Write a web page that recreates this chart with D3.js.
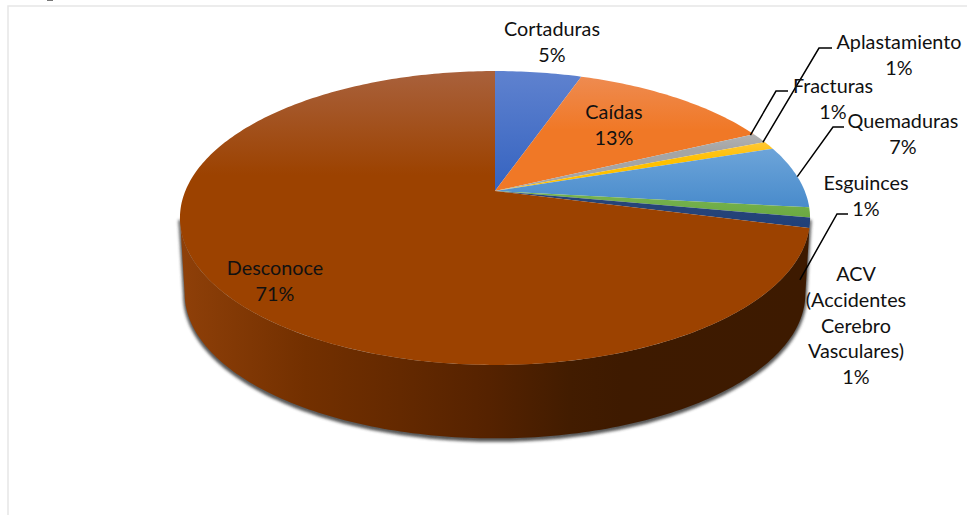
<!DOCTYPE html>
<html>
<head>
<meta charset="utf-8">
<script src="https://cdn.jsdelivr.net/npm/d3@7"></script>
<style>
html,body{margin:0;padding:0;background:#fff;overflow:hidden}
text{font-family:Lato,"Open Sans",sans-serif;font-size:19.8px;fill:#111;text-anchor:middle}
</style>
</head>
<body>
<div id="chart"></div>
<script>
let categories=["Cortaduras","Caídas","Fracturas","Aplastamiento","Quemaduras","Esguinces","ACV (Accidentes Cerebro Vasculares)","Desconoce"];
let values=[5.3,12.6,1.1,0.9,6.9,1.1,1.1,71.0];
let topColors=["#5f82cf","#ee8d55","#b5b5b5","#ffc83c","#6fa6da","#74b04c","#264478","#a9613c"];
let lowColors=["#3563c0","#f07826","#a5a5a5","#ffc000","#4a8ccc","#6aa840","#1f3f7a","#9c4200"];
// where each slice's fade starts and stops, top to bottom
let fadeStart=[71,71,130,140,145,200,210,71];
let fadeEnd=[190,130,150,160,205,220,230,175];

let width=967;
let height=515;
let cx=495;
let cy=191;

// the pie is tilted, so the apex is not in the middle of the ellipse
let persp=0.1837;
let rimX=309.7;
let rimY=142;
let depth=76;
let bottomScale=0.985;

// lines of every label, center x and y of first line, leader
let labelLayout=[
 {lines:["Cortaduras"],x:552,y:28},
 {lines:["Caídas"],x:614,y:111},
 {lines:["Fracturas"],x:833,y:85,shift:[-9,-3],elbow:[776,91],end:[788,91]},
 {lines:["Aplastamiento"],x:899,y:41,shift:[-6,-3],elbow:[819,48],end:[832,48]},
 {lines:["Quemaduras"],x:903,y:120,shift:[0,0],elbow:[833,127],end:[844,127]},
 {lines:["Esguinces"],x:866,y:182},
 {lines:["ACV","(Accidentes","Cerebro","Vasculares)"],x:856,y:273,shift:[-10,57],elbow:[837,214],end:[848,214]},
 {lines:["Desconoce"],x:275,y:267}
];

function rim(angle,bottom){
 let ux=Math.sin(angle);
 let uy=-Math.cos(angle);
 let d=1-persp*uy;
 let px=rimX*ux/d;
 let py=rimY*uy/d;
 if(bottom){
  return [cx+px*bottomScale,cy+py*bottomScale+depth];
 }
 return [cx+px,cy+py];
}

function arcPoints(a0,a1,bottom){
 let n=Math.max(2,Math.ceil(Math.abs(a1-a0)*60));
 return d3.range(n+1).map(function(i){
  return rim(a0+(a1-a0)*i/n,bottom);
 });
}

let svg=d3.select("#chart").append("svg")
.attr("width",width)
.attr("height",height)
.style("display","block");

let defs=svg.append("defs");

let blur=defs.append("filter").attr("id","shadow")
.attr("x","-5%").attr("y","-5%").attr("width","110%").attr("height","115%");
blur.append("feGaussianBlur").attr("stdDeviation",1.8);

categories.forEach(function(c,i){
 let g=defs.append("linearGradient")
 .attr("id","top"+i)
 .attr("gradientUnits","userSpaceOnUse")
 .attr("x1",0).attr("x2",0).attr("y1",fadeStart[i]).attr("y2",fadeEnd[i]);
 g.append("stop").attr("offset","0%").attr("stop-color",topColors[i]);
 g.append("stop").attr("offset","100%").attr("stop-color",lowColors[i]);
});

let sideGrad=defs.append("linearGradient")
.attr("id","side")
.attr("gradientUnits","userSpaceOnUse")
.attr("x1",179).attr("x2",810).attr("y1",0).attr("y2",0);
[[0,"#8f4009"],[0.2,"#733000"],[0.35,"#642900"],[0.49,"#552200"],[0.62,"#421c00"],[0.7,"#3e1a00"],[1,"#3d1a00"]].forEach(function(s){
 sideGrad.append("stop").attr("offset",s[0]).attr("stop-color",s[1]);
});

// frame
let frame=d3.path();
frame.moveTo(8,515);
frame.lineTo(8,6);
frame.lineTo(967,6);
svg.append("path").attr("d",frame.toString()).attr("fill","none").attr("stroke","#e6e6e6").attr("stroke-width",1.5);
svg.append("rect").attr("x",47).attr("y",0).attr("width",6).attr("height",1).attr("fill","#777");

let pie=d3.pie().sort(null).value(function(d){return d;});
let slices=pie(values);
let line=d3.line();

// outer wall, from one tangent of the rim to the other
let tangent=Math.acos(-persp);
let front=arcPoints(tangent,Math.PI*2-tangent,false);
let frontBottom=arcPoints(Math.PI*2-tangent,tangent,true);
let wall=front.concat(frontBottom);

svg.append("path")
.attr("d",line(wall)+"Z")
.attr("fill","#3a3a3a")
.attr("stroke","#3a3a3a")
.attr("stroke-width",3)
.attr("opacity",0.85)
.attr("transform","translate(0,2)")
.attr("filter","url(#shadow)");

svg.append("path")
.attr("d",line(wall)+"Z")
.attr("fill","url(#side)");

// top of the pie
svg.selectAll("path.slice")
.data(slices)
.enter()
.append("path")
.attr("class","slice")
.attr("d",function(d){
 return line([[cx,cy]].concat(arcPoints(d.startAngle,d.endAngle,false)))+"Z";
})
.attr("fill",function(d,i){return "url(#top"+i+")";});

// leaders
labelLayout.forEach(function(l,i){
 if(!l.elbow){return;}
 let d=slices[i];
 let p=rim((d.startAngle+d.endAngle)/2,false);
 svg.append("path")
 .attr("d",line([[p[0]+l.shift[0],p[1]+l.shift[1]],l.elbow,l.end]))
 .attr("fill","none")
 .attr("stroke","#000")
 .attr("stroke-width",1.5);
});

// labels
let total=d3.sum(values);
labelLayout.forEach(function(l,i){
 let t=svg.append("text").attr("x",l.x).attr("y",l.y);
 l.lines.concat([Math.round(values[i]/total*100)+"%"]).forEach(function(s,k){
  t.append("tspan")
  .attr("x",l.x)
  .attr("y",l.y+k*25.8)
  .attr("dominant-baseline","central")
  .text(s);
 });
});
</script>
</body>
</html>
